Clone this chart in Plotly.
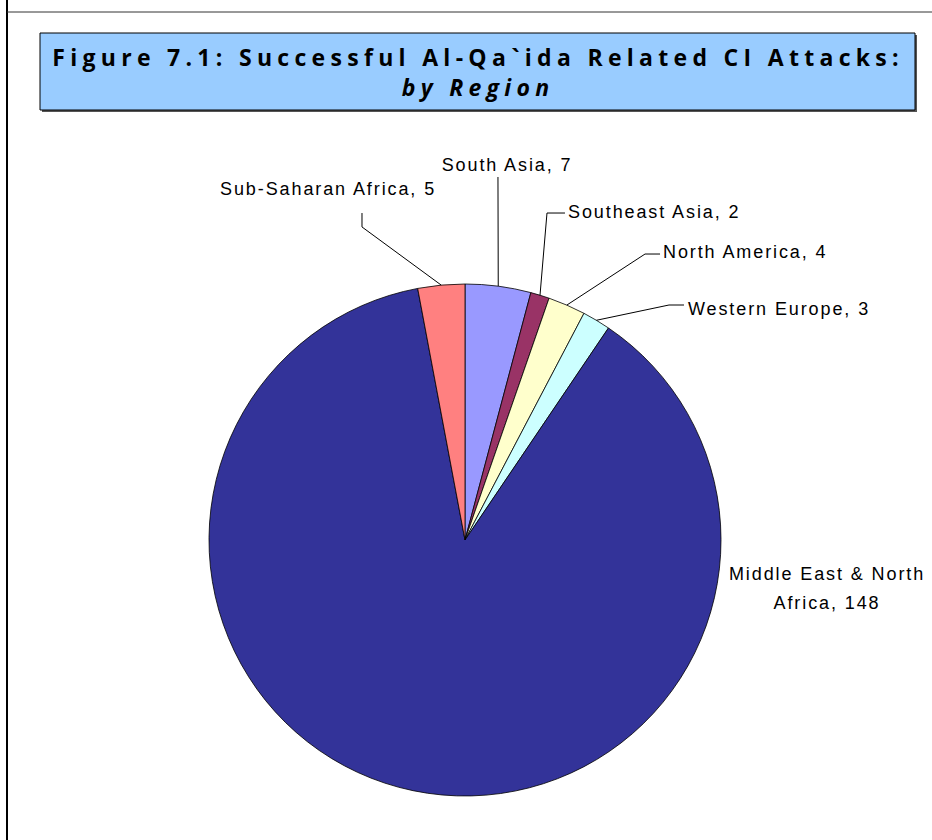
import math
import json
import plotly.graph_objects as go

# ---- data ----
regions = ["South Asia", "Southeast Asia", "North America", "Western Europe",
           "Middle East & North Africa", "Sub-Saharan Africa"]
attacks = [7, 2, 4, 3, 148, 5]
label_texts = ["South Asia, 7", "Southeast Asia, 2", "North America, 4",
               "Western Europe, 3", "Middle East & North<br>Africa, 148",
               "Sub-Saharan Africa, 5"]
title_line1 = "Figure 7.1: Successful Al-Qa`ida Related CI Attacks:"
title_line2 = "by Region"

# ---- style / layout ----
colors = ["#9999FF", "#993366", "#FFFFCC", "#CCFFFF", "#333399", "#FF8080"]
W, H = 932, 840
CX, CY, R = 465, 540, 256          # pie placement in pixels

# label placement (pixels): text anchor point, alignment, leader elbow points
label_style = [
    dict(x=507, y=165, xanchor="center", path=[(498, 177)]),
    dict(x=566, y=212, xanchor="left", path=[(547, 213), (565, 213)]),
    dict(x=661, y=252, xanchor="left", path=[(645, 254), (660, 254)]),
    dict(x=686, y=309, xanchor="left", path=[(669, 305), (684, 305)]),
    dict(x=827, y=585, xanchor="center", path=[]),
    dict(x=328, y=189, xanchor="center", path=[(362, 227), (362, 213)]),
]


def px(x):
    return x / W


def py(y):
    return 1 - y / H


fig = go.Figure(go.Pie(
    labels=regions,
    values=attacks,
    sort=False,
    direction="clockwise",
    rotation=0,
    marker=dict(colors=colors, line=dict(color="#000000", width=0.8)),
    textinfo="none",
    hoverinfo="label+value",
    showlegend=False,
    domain=dict(x=[px(CX - R), px(CX + R)], y=[py(CY + R), py(CY - R)]),
))

shapes = []
# page frame lines
shapes.append(dict(type="line", xref="paper", yref="paper",
                   x0=px(7), x1=px(7), y0=py(0), y1=py(H),
                   line=dict(color="#000000", width=2)))
shapes.append(dict(type="line", xref="paper", yref="paper",
                   x0=px(7), x1=px(W), y0=py(12), y1=py(12),
                   line=dict(color="#333333", width=1)))
# title box with shadow
shapes.append(dict(type="rect", xref="paper", yref="paper", layer="below",
                   x0=px(42), x1=px(917), y0=py(112), y1=py(35),
                   fillcolor="#555555", line=dict(width=0)))
shapes.append(dict(type="rect", xref="paper", yref="paper", layer="below",
                   x0=px(40), x1=px(915), y0=py(110), y1=py(33),
                   fillcolor="#99CCFF", line=dict(color="#000000", width=1)))

# leader lines: from slice edge (computed from the data) through elbow points
total = sum(attacks)
cum = 0
annotations = []
annotations.append(dict(
    xref="paper", yref="paper", x=px(478), y=py(72),
    xanchor="center", yanchor="middle", showarrow=False, align="center",
    text="<b>" + title_line1 + "</b><br><b><i>" + title_line2 + "</i></b>",
    font=dict(family="Open Sans, DejaVu Sans, sans-serif", size=23, color="#000000"),
))
for v, txt, st in zip(attacks, label_texts, label_style):
    mid = (cum + v / 2) / total * 2 * math.pi
    cum += v
    ex = CX + R * math.sin(mid)
    ey = CY - R * math.cos(mid)
    if st["path"]:
        pts = [(ex, ey)] + st["path"]
        d = "M {:.4f} {:.4f}".format(px(pts[0][0]), py(pts[0][1]))
        for (x, y) in pts[1:]:
            d += " L {:.4f} {:.4f}".format(px(x), py(y))
        shapes.append(dict(type="path", xref="paper", yref="paper", path=d,
                           line=dict(color="#000000", width=1)))
    annotations.append(dict(
        xref="paper", yref="paper", x=px(st["x"]), y=py(st["y"]),
        xanchor=st["xanchor"], yanchor="middle", showarrow=False,
        align="left" if st["xanchor"] == "left" else "center",
        text=txt,
        font=dict(family="Liberation Sans, Arial, sans-serif", size=18, color="#000000"),
    ))

fig.update_layout(
    width=W, height=H,
    margin=dict(l=0, r=0, t=0, b=0),
    paper_bgcolor="#FFFFFF",
    plot_bgcolor="#FFFFFF",
    shapes=shapes,
    annotations=annotations,
)

# letter spacing per annotation (title is index 0), and line gap for 2-line label
spacing = [5.3] + [1.9] * len(label_texts)
post = """
document.body.style.margin = '0';
document.body.style.padding = '0';
var gd = document.getElementById('{plot_id}');
var SP = %s;
gd.querySelectorAll('g.annotation').forEach(function(g){
  var i = +g.getAttribute('data-index');
  var t = g.querySelector('text.annotation-text');
  if (t && SP[i] !== undefined) { t.style.letterSpacing = SP[i] + 'px'; }
  if (t && i === 5) {
    var ls = t.querySelectorAll('tspan.line');
    for (var k = 1; k < ls.length; k++) { ls[k].setAttribute('dy', '1.6em'); }
  }
});
""" % json.dumps(spacing)

fig.write_html("out.html", post_script=post, config={"displayModeBar": False})
